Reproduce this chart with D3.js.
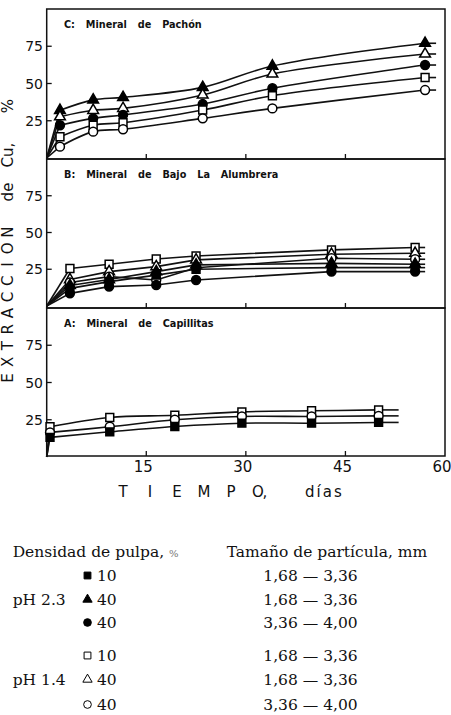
<!DOCTYPE html>
<html><head><meta charset="utf-8">
<script src="https://cdn.jsdelivr.net/npm/d3@7"></script>
<style>body{margin:0;background:#fff} svg{display:block}</style>
</head><body><svg id="c" width="451" height="715"></svg>
<script>
// ---------- data ----------
const daysC = [2, 7, 11.5, 23.5, 34, 57];
const pachonTriF  = [32, 39, 40.7, 47.4, 61.7, 77];
const pachonTriO  = [27.7, 32, 33.3, 42.3, 56.4, 69.8];
const pachonCircF = [22, 26.6, 28.9, 36.2, 46.8, 62.4];
const pachonSqO   = [14.3, 22, 23.7, 32.2, 41.8, 54];
const pachonCircO = [7.6, 17.7, 19.3, 26.6, 33.3, 45.6];

const daysB = [3.5, 9.4, 16.5, 22.5, 42.9, 55.5];
const alumbreraSqO   = [25.5, 28.4, 32, 34, 38.2, 39.8];
const alumbreraTriO  = [18, 23.4, 26.8, 31.4, 35.2, 35.9];
const alumbreraCircO = [16, 20, 17.7, 26, 32.5, 31.8];
const alumbreraTriF  = [14, 18, 23.4, 28, 29, 28.4];
const alumbreraSqF   = [12, 16.6, 21, 25, 26.1, 26.1];
const alumbreraCircF = [8.6, 13.2, 14.3, 17.7, 23.4, 23.4];

const daysA = [0.5, 9.5, 19.3, 29.4, 39.9, 50];
const capillitasSqO  = [20.3, 26.5, 28, 30.3, 31, 31.6];
const capillitasCircO= [16.5, 20.3, 25, 27.2, 27.2, 27.6];
const capillitasSqF  = [13.2, 16.9, 20.5, 22.7, 22.7, 23.2];

const xTicks = [15, 30, 45, 60];
const yTicks = [25, 50, 75];
const panelTitles = ["C: Mineral de Pachón", "B: Mineral de Bajo La Alumbrera", "A: Mineral de Capillitas"];
const xTitleLetters = ["T","I","E","M","P","O",","];
const xTitleUnit = "días";
const yTitleLetters = ["E","X","T","R","A","C","C","I","O","N"];
const yTitleRest = ["de","Cu,","%"];
const legendHeader1 = "Densidad de pulpa, ";
const legendHeader2 = "Tamaño de partícula, mm";
const legendSymbols = ["sqF","triF","circF","sqO","triO","circO"];
const legendPH = ["pH 2.3","pH 1.4"];
const legendDensity = ["10","40","40","10","40","40"];
const legendSize = ["1,68 — 3,36","1,68 — 3,36","3,36 — 4,00","1,68 — 3,36","1,68 — 3,36","3,36 — 4,00"];

// ---------- layout ----------
const svg = d3.select("#c");
const X0 = 46.7, X1 = 445;
const x = d3.scaleLinear().domain([0,60]).range([X0, X1]);

const panels = [
  {title: panelTitles[0], top: 9,   bottom: 159, yr:[158,9],   days: daysC, curve: d3.curveCatmullRom.alpha(0.5), stub: 11,
   series: [["triF",pachonTriF],["triO",pachonTriO],["circF",pachonCircF],["sqO",pachonSqO],["circO",pachonCircO]]},
  {title: panelTitles[1], top: 159, bottom: 308, yr:[306,159], days: daysB, curve: d3.curveLinear, stub: 10,
   series: [["sqO",alumbreraSqO],["triO",alumbreraTriO],["circO",alumbreraCircO],["triF",alumbreraTriF],["sqF",alumbreraSqF],["circF",alumbreraCircF]]},
  {title: panelTitles[2], top: 308, bottom: 456, yr:[457,308], days: daysA, curve: d3.curveCatmullRom.alpha(0.5), stub: 20,
   series: [["sqO",capillitasSqO],["circO",capillitasCircO],["sqF",capillitasSqF]]}
];

const symType = {sq: d3.symbolSquare, tri: d3.symbolTriangle, circ: d3.symbolCircle};
const symSize = {sq: 62, tri: 50, circ: 62};
function drawSym(g, id, cx, cy, k, sw) {
  const kind = id.replace(/[FO]$/, "");
  const filled = id.endsWith("F");
  g.append("path")
    .attr("d", d3.symbol().type(symType[kind]).size(symSize[kind] * k)())
    .attr("transform", `translate(${cx},${cy})`)
    .attr("fill", filled ? "#000" : "#fff")
    .attr("stroke", "#000").attr("stroke-width", sw);
}

panels.forEach(p => {
  const y = d3.scaleLinear().domain([0,100]).range(p.yr);
  const g = svg.append("g");
  g.append("rect").attr("x", X0).attr("y", p.top).attr("width", X1 - X0).attr("height", p.bottom - p.top)
    .attr("fill", "none").attr("stroke", "#111").attr("stroke-width", 1.5);
  yTicks.forEach(t => {
    g.append("line").attr("x1", X0).attr("x2", X0 + 5).attr("y1", y(t)).attr("y2", y(t))
      .attr("stroke", "#111").attr("stroke-width", 1.3);
    g.append("text").attr("x", 43).attr("y", y(t)).attr("dy", "0.36em").attr("text-anchor", "end")
      .attr("font-family", "DejaVu Sans").attr("font-size", 14).attr("fill", "#111").text(t);
  });
  xTicks.slice(0, 3).forEach(t => {
    g.append("line").attr("x1", x(t)).attr("x2", x(t)).attr("y1", p.bottom).attr("y2", p.bottom - 5)
      .attr("stroke", "#111").attr("stroke-width", 1.3);
  });
  g.append("text").attr("x", 64).attr("y", p.top + 18.5)
    .attr("font-family", "DejaVu Sans").attr("font-weight", "bold").attr("font-size", 9.7)
    .attr("word-spacing", 7.5).attr("fill", "#111").text(p.title);

  const straight = d3.line().x(d => x(d[0])).y(d => y(d[1]));
  const line = d3.line().x(d => x(d[0])).y(d => y(d[1])).curve(p.curve);
  p.series.forEach(([id, vals]) => {
    const pts = p.days.map((d, i) => [d, vals[i]]);
    // straight rise from the origin to the first reading
    g.append("path").attr("d", straight([[0, 0], pts[0]])).attr("fill", "none").attr("stroke", "#111").attr("stroke-width", 1.6);
    g.append("path").attr("d", line(pts)).attr("fill", "none").attr("stroke", "#111").attr("stroke-width", 1.6);
    const last = pts[pts.length - 1];
    g.append("line").attr("x1", x(last[0])).attr("x2", x(last[0]) + p.stub)
      .attr("y1", y(last[1])).attr("y2", y(last[1])).attr("stroke", "#111").attr("stroke-width", 1.6);
  });
  p.series.forEach(([id, vals]) => {
    p.days.forEach((d, i) => drawSym(g, id, x(d), y(vals[i]), 1, 1.5));
  });
});

xTicks.forEach(t => {
  svg.append("text").attr("x", x(t) - 3).attr("y", 472).attr("text-anchor", "middle")
    .attr("font-family", "DejaVu Sans").attr("font-size", 15).attr("fill", "#111").text(t);
});
xTitleLetters.forEach((ch, i) => {
  const cx = ch === "," ? 265 : 123 + i * 27;
  svg.append("text").attr("x", cx).attr("y", 497).attr("text-anchor", "middle")
    .attr("font-family", "DejaVu Sans").attr("font-size", 15).attr("fill", "#111").text(ch);
});
svg.append("text").attr("x", 305).attr("y", 497).attr("letter-spacing", 2)
  .attr("font-family", "DejaVu Sans").attr("font-size", 15).attr("fill", "#111").text(xTitleUnit);

function yLetter(txt, cy, size) {
  svg.append("text").attr("transform", `translate(13,${cy}) rotate(-90)`).attr("text-anchor", "middle")
    .attr("font-family", "DejaVu Sans").attr("font-size", size).attr("fill", "#111").text(txt);
}
yTitleLetters.forEach((ch, i) => yLetter(ch, 378 - i * 16.2, 15));
yLetter(yTitleRest[0], 192, 15);
yLetter(yTitleRest[1], 155, 15);
yLetter(yTitleRest[2], 106, 15);

// ---------- legend ----------
const serif = "DejaVu Serif";
const fs = 15.5;
const hdr = svg.append("text").attr("x", 12.7).attr("y", 557).attr("font-family", serif).attr("font-size", fs).attr("fill", "#111");
hdr.append("tspan").text(legendHeader1);
hdr.append("tspan").attr("font-size", 10).attr("fill", "#777").text("%");
svg.append("text").attr("x", 226.7).attr("y", 557).attr("font-family", serif).attr("font-size", fs).attr("fill", "#111").text(legendHeader2);

const rowY = [581, 605, 628, 661, 685, 710];
legendSymbols.forEach((id, i) => {
  drawSym(svg, id, 87.5, rowY[i] - 5.5, 0.75, 1);
  svg.append("text").attr("x", 97).attr("y", rowY[i]).attr("font-family", serif).attr("font-size", fs).attr("fill", "#111").text(legendDensity[i]);
  svg.append("text").attr("x", 263.3).attr("y", rowY[i]).attr("font-family", serif).attr("font-size", fs).attr("fill", "#111").text(legendSize[i]);
});
legendPH.forEach((t, i) => {
  svg.append("text").attr("x", 12.7).attr("y", rowY[1 + i * 3]).attr("font-family", serif).attr("font-size", fs).attr("fill", "#111").text(t);
});
</script></body></html>
